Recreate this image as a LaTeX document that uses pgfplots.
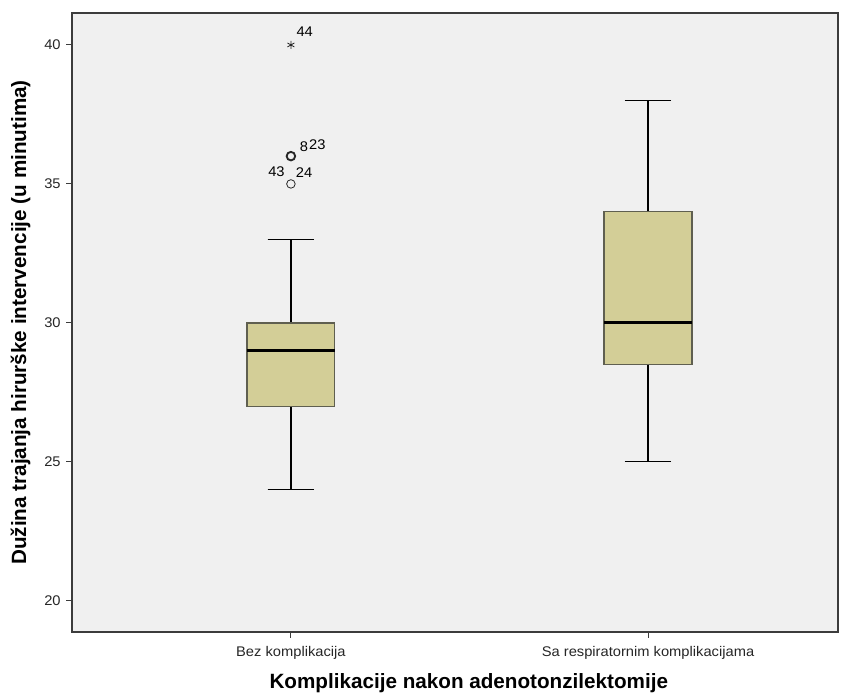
\documentclass[border=0pt]{standalone}
\usepackage{fontspec}
\setmainfont{Liberation Sans}
\usepackage{pgfplots}
\pgfplotsset{compat=1.18}
\usepgfplotslibrary{statistics}
\definecolor{boxfill}{RGB}{211,206,151}
\definecolor{bgc}{RGB}{240,240,240}
\definecolor{framec}{RGB}{60,60,60}
\definecolor{boxedge}{RGB}{95,95,80}
\newcommand{\tickfont}{\fontsize{10.5}{12}\selectfont\addfontfeature{FakeStretch=1.05}}
\newcommand{\labfont}{\fontsize{15.5}{17}\selectfont}
\begin{document}
\begin{tikzpicture}
\useasboundingbox (0,0) rectangle (639.75pt,522pt);
\begin{axis}[
  at={(54pt,48pt)}, anchor=south west,
  scale only axis, width=574.5pt, height=464.25pt,
  xmin=0.387, xmax=2.532, ymin=18.88, ymax=41.15,
  axis background/.style={fill=bgc},
  axis line style={framec, line width=0.8pt},
  xtick={1,2}, xticklabels={Bez komplikacija, Sa respiratornim komplikacijama},
  ytick={20,25,30,35,40},
  tick align=outside, major tick length=4.5pt,
  xtick pos=bottom, ytick pos=left,
  tick style={framec, line width=0.7pt},
  /pgf/number format/assume math mode=true,
  ticklabel style={font=\tickfont, text=black!85},
  yticklabel style={xshift=-0.5pt},
  xticklabel style={yshift=-3pt},
  xlabel={\textbf{Komplikacije nakon adenotonzilektomije}},
  ylabel={\textbf{Dužina trajanja hirurške intervencije (u minutima)}},
  label style={font=\labfont},
  xlabel style={at={(axis description cs:0.518,-0.083)}, anchor=center},
  ylabel style={at={(axis description cs:-0.067,0.5)}, anchor=center},
  boxplot/draw direction=y,
  clip=false,
]
\addplot+[mark=o, mark size=3.2pt, mark options={draw=black!85, line width=0.6pt},
  draw=boxedge, line width=0.9pt, fill=boxfill,
  boxplot prepared={median=29, upper quartile=30, lower quartile=27,
    upper whisker=33, lower whisker=24, draw position=1,
    box extend=0.246, whisker extend=0.13,
    every median/.style={black, line width=2.2pt},
    every whisker/.style={black, line width=0.9pt}}]
  table[row sep=\\, y index=0] {data\\ 35\\ };
\addplot+[mark=none,
  draw=boxedge, line width=0.9pt, fill=boxfill,
  boxplot prepared={median=30, upper quartile=34, lower quartile=28.5,
    upper whisker=38, lower whisker=25, draw position=2,
    box extend=0.246, whisker extend=0.13,
    every median/.style={black, line width=2.2pt},
    every whisker/.style={black, line width=0.9pt}}]
  table[row sep=\\, y index=0] {data\\};
% outliers
\addplot[only marks, mark=o, mark size=3.2pt, mark options={draw=black!85, line width=1.4pt}]
  coordinates {(1,36)};
\addplot[only marks, mark=asterisk, mark size=3pt, mark options={draw=black!85, line width=0.6pt}]
  coordinates {(1,40)};
% labels
\addplot[draw=none, mark=none, nodes near coords, point meta=explicit symbolic,
  every node near coord/.style={font=\tickfont, anchor=south west, inner sep=0pt, xshift=4pt, yshift=6pt}]
  coordinates {(1,40) [44]};
\addplot[draw=none, mark=none, nodes near coords, point meta=explicit symbolic,
  every node near coord/.style={font=\tickfont, anchor=south west, inner sep=0pt, xshift=6.5pt, yshift=3pt}]
  coordinates {(1,36) [8]};
\addplot[draw=none, mark=none, nodes near coords, point meta=explicit symbolic,
  every node near coord/.style={font=\tickfont, anchor=south west, inner sep=0pt, xshift=13.5pt, yshift=5pt}]
  coordinates {(1,36) [23]};
\addplot[draw=none, mark=none, nodes near coords, point meta=explicit symbolic,
  every node near coord/.style={font=\tickfont, anchor=south east, inner sep=0pt, xshift=-4.5pt, yshift=5pt}]
  coordinates {(1,35) [43]};
\addplot[draw=none, mark=none, nodes near coords, point meta=explicit symbolic,
  every node near coord/.style={font=\tickfont, anchor=south west, inner sep=0pt, xshift=3.5pt, yshift=5pt}]
  coordinates {(1,35) [24]};
\end{axis}
\end{tikzpicture}
\end{document}
